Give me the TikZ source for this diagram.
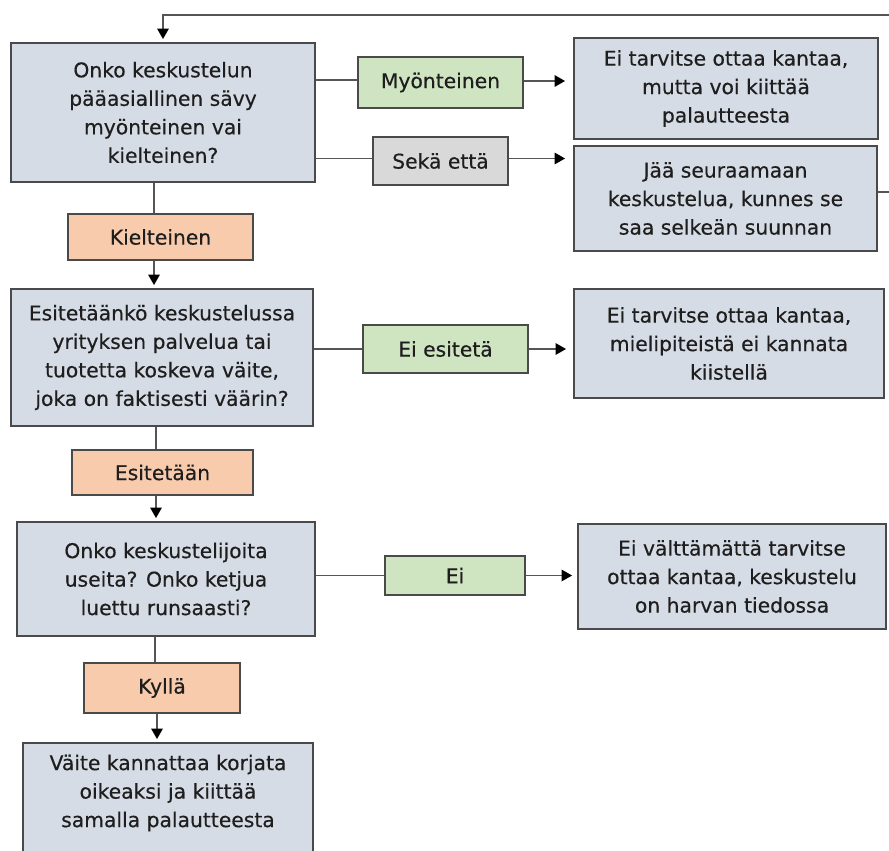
\documentclass[tikz,border=0pt]{standalone}
\usepackage{fontspec}
\setmainfont{DejaVu Sans}[FakeBold=0.4]
\usetikzlibrary{arrows.meta,calc}
\definecolor{boxfill}{HTML}{D6DCE5}
\definecolor{boxline}{HTML}{4A4A4A}
\definecolor{yesfill}{HTML}{CFE4C0}
\definecolor{nofill}{HTML}{F8CBAD}
\definecolor{midfill}{HTML}{D9D9D9}
\definecolor{connline}{HTML}{555555}
\definecolor{txt}{HTML}{1E1E1E}
\tikzset{
  base/.style={draw=boxline, line width=1.8pt, inner sep=0pt, align=center,
    text=txt, font=\fontsize{20.3}{28.5}\selectfont},
  qbox/.style={base, fill=boxfill},
  rbox/.style={base, fill=boxfill},
  yesbox/.style={base, fill=yesfill},
  nobox/.style={base, fill=nofill},
  midbox/.style={base, fill=midfill},
  conn/.style={draw=connline, line width=1.6pt},
  arr/.style={conn, -{Triangle[color=black, width=11.5pt, length=10.5pt]}, shorten >=3pt},
  sz/.style 2 args={minimum width=#1pt, minimum height=#2pt}
}
\begin{document}
\begin{tikzpicture}[x=1pt, y=-1pt]
\useasboundingbox (0,0) rectangle (889,851);
\clip (0,0) rectangle (889,851);

% question boxes on the left
\node[qbox, sz={304}{139}] (q1) at (163,112.5)
  {Onko keskustelun\\pääasiallinen sävy\\myönteinen vai\\kielteinen?};
\node[qbox, sz={302}{137}] (q2) at (162,357.5)
  {Esitetäänkö keskustelussa\\yrityksen palvelua tai\\tuotetta koskeva väite,\\joka on faktisesti väärin?};
\node[qbox, sz={298}{114}] (q3) at (166,579)
  {Onko keskustelijoita\\useita? Onko ketjua\\luettu runsaasti?};
\node[qbox, sz={290}{130}] (q4) at (168,808) {};
\node[inner sep=0pt, align=center, text=txt, font=\fontsize{20.3}{28.5}\selectfont] (q4t) at (168,793)
  {Väite kannattaa korjata\\oikeaksi ja kiittää\\samalla palautteesta};

% answer labels
\node[yesbox, sz={165}{51}] (myo) at (440.5,82.5) {Myönteinen};
\node[midbox, sz={135}{48}] (seka) at (440.5,161) {Sekä että};
\node[nobox, sz={185}{46}] (kiel) at (160.5,237) {Kielteinen};
\node[yesbox, sz={165}{48}] (eies) at (445.5,349) {Ei esitetä};
\node[nobox, sz={181}{45}] (esit) at (162.5,472.5) {Esitetään};
\node[yesbox, sz={140}{39}] (ei) at (455,575.5) {Ei};
\node[nobox, sz={156}{50}] (kyl) at (162,688) {Kyllä};

% outcome boxes on the right
\node[rbox, sz={304}{101}] (r1) at (726,88.5)
  {Ei tarvitse ottaa kantaa,\\mutta voi kiittää\\palautteesta};
\node[rbox, sz={303}{105}] (r2) at (725.5,198.5)
  {Jää seuraamaan\\keskustelua, kunnes se\\saa selkeän suunnan};
\node[rbox, sz={310}{109}] (r3) at (729,343.5)
  {Ei tarvitse ottaa kantaa,\\mielipiteistä ei kannata\\kiistellä};
\node[rbox, sz={308}{105}] (r4) at (732,576.5)
  {Ei välttämättä tarvitse\\ottaa kantaa, keskustelu\\on harvan tiedossa};

% horizontal branches
\draw[conn] ([yshift=2.5pt]myo.west -| q1.east) -- ([yshift=2.5pt]myo.west);
\draw[arr, shorten >=8pt] ([yshift=1.5pt]myo.east) -- ([yshift=1.5pt]myo.east -| r1.west);
\draw[conn] ([yshift=2.5pt]seka.west -| q1.east) -- ([yshift=2.5pt]seka.west);
\draw[arr, shorten >=8pt] ([yshift=2.5pt]seka.east) -- ([yshift=2.5pt]seka.east -| r2.west);
\draw[conn] (eies.west -| q2.east) -- (eies.west);
\draw[arr, shorten >=7pt] (eies.east) -- (eies.east -| r3.west);
\draw[conn] (ei.west -| q3.east) -- (ei.west);
\draw[arr, shorten >=5pt] (ei.east) -- (ei.east -| r4.west);

% vertical chain
\draw[conn] ([xshift=-9pt]q1.south) -- ([xshift=-9pt]q1.south |- kiel.north);
\draw[arr] ([xshift=-6.5pt]kiel.south) -- ([xshift=-6.5pt]kiel.south |- q2.north);
\draw[conn] ([xshift=-6pt]q2.south) -- ([xshift=-6pt]q2.south |- esit.north);
\draw[arr] ([xshift=-6.5pt]esit.south) -- ([xshift=-6.5pt]esit.south |- q3.north);
\draw[conn] ([xshift=-11pt]q3.south) -- ([xshift=-11pt]q3.south |- kyl.north);
\draw[arr] ([xshift=-5pt]kyl.south) -- ([xshift=-5pt]kyl.south |- q4.north);

% loop back to the first question
\coordinate (fbR) at (900,192);
\coordinate (fbT) at (900,15);
\draw[arr] (fbR -| r2.east) -- (fbR) -- (fbT) -| (q1.north);
\end{tikzpicture}
\end{document}
